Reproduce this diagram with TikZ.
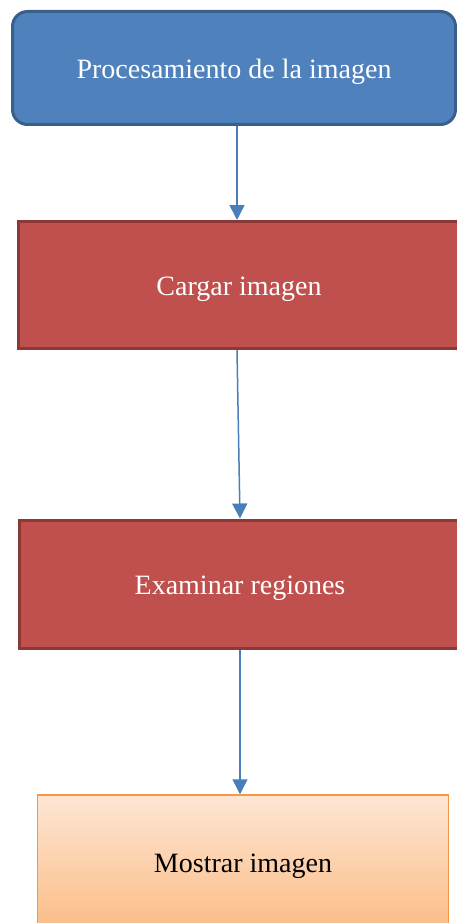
\documentclass[tikz,border=0pt]{standalone}
\usepackage{fontspec}
\setmainfont{Liberation Serif}
\usetikzlibrary{arrows.meta,shadows}
\definecolor{blueF}{HTML}{4F81BD}
\definecolor{blueD}{HTML}{3A5F8B}
\definecolor{redF}{HTML}{C0504D}
\definecolor{redD}{HTML}{8C3836}
\definecolor{orT}{HTML}{FEE6D4}
\definecolor{orB}{HTML}{FBBD86}
\definecolor{orD}{HTML}{F79646}
\definecolor{arr}{HTML}{4A7EBB}
\begin{document}
\begin{tikzpicture}[x=1pt,y=-1pt,
  txt/.style={font=\fontsize{28}{34}\selectfont, inner sep=0pt, text height=27pt, text depth=6pt},
  topbox/.style={txt, draw=blueD, fill=blueF, line width=3pt, rounded corners=15pt, text=white},
  redbox/.style={txt, draw=redD, fill=redF, line width=3pt, text=white},
  orbox/.style={txt, draw=orD, line width=1.5pt, top color=orT, bottom color=orB, text=black,
    drop shadow={shadow xshift=-1pt, shadow yshift=-1.5pt, opacity=0.3}},
  conn/.style={draw=arr, line width=1.5pt, -{Triangle[width=15pt,length=15pt]}}]
\useasboundingbox (0,0) rectangle (457,923);
\node[topbox, minimum width=443pt, minimum height=113pt] (p) at (234,68) {Procesamiento de la imagen};
\node[redbox, minimum width=442pt, minimum height=127pt] (c) at (239,285) {Cargar imagen};
\node[redbox, minimum width=442pt, minimum height=128pt] (e) at (240,584) {Examinar regiones};
\node[orbox, minimum width=411pt, minimum height=134pt] (m) at (243,862) {Mostrar imagen};
\draw[conn] ([xshift=3pt]p.south) -- ([xshift=-2pt]c.north);
\draw[conn] ([xshift=-2pt]c.south) -- (e.north);
\draw[conn] (e.south) -- ([xshift=-3pt]m.north);
\end{tikzpicture}
\end{document}
